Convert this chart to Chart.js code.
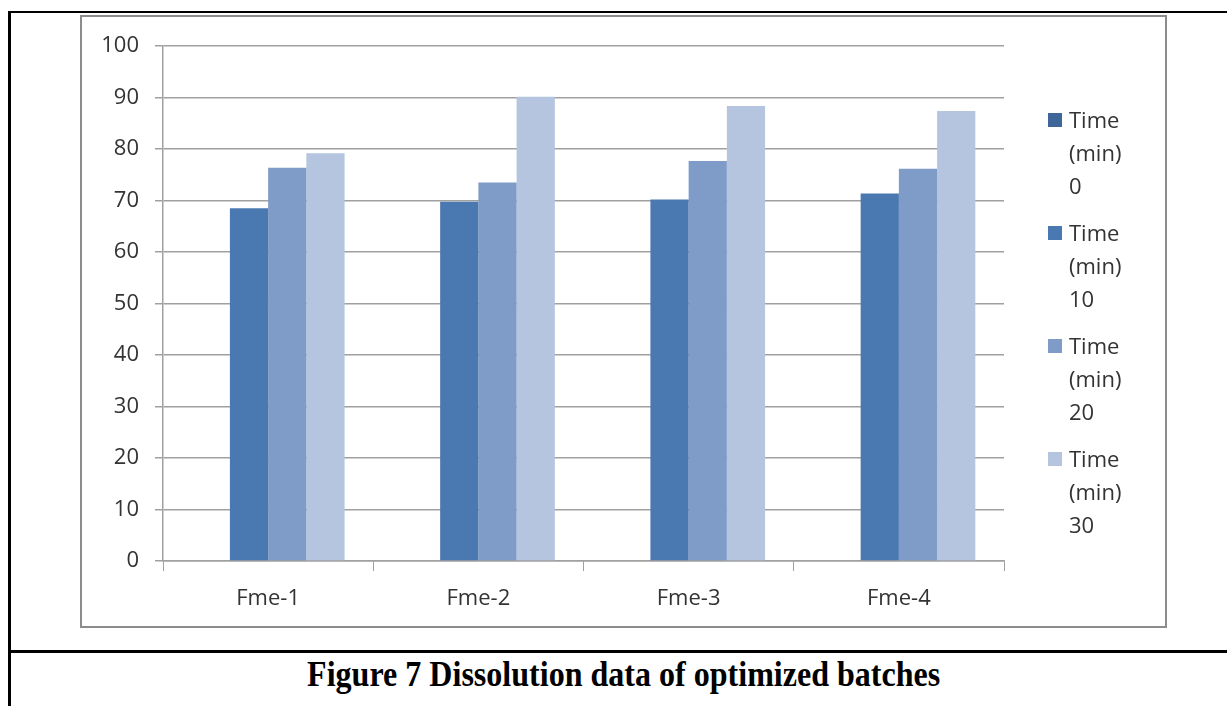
<!DOCTYPE html>
<html>
<head>
<meta charset="utf-8">
<script src="https://cdn.jsdelivr.net/npm/chart.js@4/dist/chart.umd.min.js"></script>
<style>
  html, body { margin: 0; padding: 0; background: #fff; width: 1227px; height: 706px; overflow: hidden; }
  .frame-top { position: absolute; left: 8px; top: 11px; width: 1230px; height: 2px; background: #000; }
  .frame-left { position: absolute; left: 8px; top: 11px; width: 3px; height: 700px; background: #000; }
  .frame-sep { position: absolute; left: 8px; top: 650px; width: 1230px; height: 3px; background: #000; }
  .chart-box { position: absolute; left: 80px; top: 15px; width: 1087px; height: 613px;
               box-sizing: border-box; border: 2px solid #8c8c8c; background: #fff; }
  canvas { display: block; }
  .caption { position: absolute; left: 0; width: 1248px; top: 654px; text-align: center;
             font-family: "Liberation Serif", "Times New Roman", serif; font-weight: bold;
             font-size: 36px; line-height: 40px; color: #000; }
  .caption span { display: inline-block; transform: scaleX(0.89); transform-origin: center; }
</style>
</head>
<body>
<div class="frame-top"></div>
<div class="frame-left"></div>
<div class="frame-sep"></div>
<div class="chart-box"><canvas id="c" width="1083" height="609"></canvas></div>
<div class="caption"><span>Figure 7 Dissolution data of optimized batches</span></div>
<script>
// Formulations and cumulative drug release (%) at each sampling time
const batches = ['Fme-1', 'Fme-2', 'Fme-3', 'Fme-4'];
const seriesNames = [['Time', '(min)', '0'], ['Time', '(min)', '10'], ['Time', '(min)', '20'], ['Time', '(min)', '30']];
const release0  = [0, 0, 0, 0];
const release10 = [68.5, 69.8, 70.2, 71.4];
const release20 = [76.4, 73.5, 77.7, 76.2];
const release30 = [79.2, 90.2, 88.4, 87.4];
const yTicks = [0, 10, 20, 30, 40, 50, 60, 70, 80, 90, 100];

const colors = ['#3f6699', '#4a78b0', '#7f9cc8', '#b5c4df'];
const textColor = '#333333';
const axisGray = '#a0a0a0';
const FONT = '"Open Sans", "DejaVu Sans", sans-serif';

// Right-hand legend with each series name wrapped over three lines
const sideLegend = {
  id: 'sideLegend',
  afterDraw(chart) {
    const ctx = chart.ctx;
    ctx.save();
    ctx.font = '22px ' + FONT;
    ctx.textBaseline = 'middle';
    ctx.textAlign = 'left';
    chart.data.datasets.forEach((ds, i) => {
      const top = 96 + i * 113;
      ctx.fillStyle = ds.legendColor;
      ctx.fillRect(966, top, 14, 14);
      ctx.fillStyle = textColor;
      ds.nameLines.forEach((line, j) => {
        ctx.fillText(line, 987, top + 9 + j * 33);
      });
    });
    ctx.restore();
  }
};

const datasets = [release0, release10, release20, release30].map((vals, i) => ({
  label: seriesNames[i].join(' '),
  nameLines: seriesNames[i],
  legendColor: colors[i],
  data: vals,
  backgroundColor: colors[i],
  borderWidth: 0,
  barPercentage: 1.0,
  categoryPercentage: 4 / 5.5
}));

new Chart(document.getElementById('c'), {
  type: 'bar',
  data: { labels: batches, datasets },
  options: {
    responsive: false,
    animation: false,
    layout: { padding: { left: 0, top: 29, right: 161, bottom: 0 } },
    plugins: { legend: { display: false }, tooltip: { enabled: false } },
    scales: {
      x: {
        afterFit: s => { s.height = 65; },
        grid: { display: true, drawOnChartArea: false, drawTicks: true, tickLength: 10, color: axisGray, lineWidth: 1 },
        border: { display: true, color: axisGray, width: 1.5 },
        ticks: { color: textColor, font: { family: FONT, size: 22 }, padding: 15 }
      },
      y: {
        min: 0,
        max: 100,
        afterFit: s => { s.width = 81; },
        afterBuildTicks: s => { s.ticks = yTicks.map(v => ({ value: v })); },
        grid: { color: axisGray, lineWidth: 1.5, tickLength: 8 },
        border: { display: true, color: axisGray, width: 1.5 },
        ticks: { color: textColor, font: { family: FONT, size: 22 }, padding: 16 }
      }
    }
  },
  plugins: [sideLegend]
});
</script>
</body>
</html>
